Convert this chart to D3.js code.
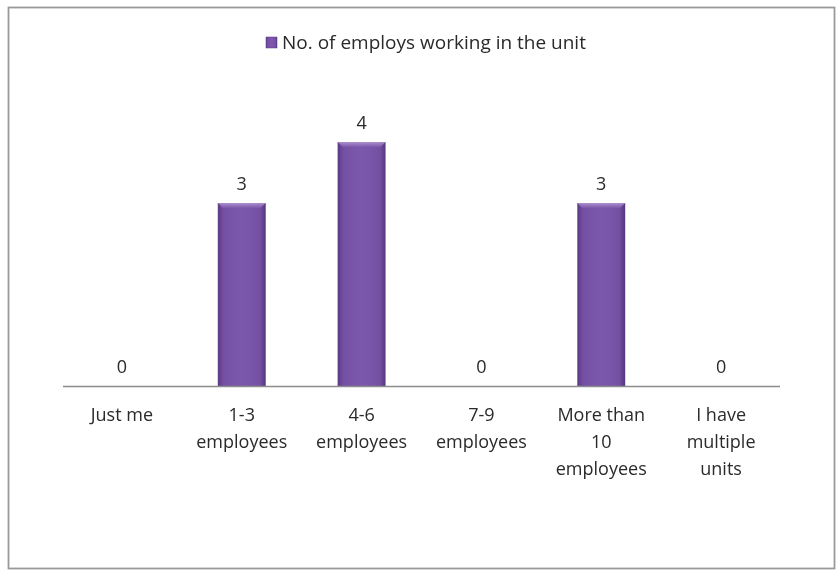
<!DOCTYPE html>
<html>
<head>
<meta charset="utf-8">
<script src="https://cdn.jsdelivr.net/npm/d3@7"></script>
<style>
  html, body { margin: 0; padding: 0; background: #fff; }
  svg { display: block; }
  text { font-family: "Open Sans", "Noto Sans", sans-serif; fill: #2a2a2a; }
</style>
</head>
<body>
<svg id="chart" width="837" height="571"></svg>
<script>
// Category labels (line breaks kept as separate lines)
const categories = [
  ["Just me"],
  ["1-3", "employees"],
  ["4-6", "employees"],
  ["7-9", "employees"],
  ["More than", "10", "employees"],
  ["I have", "multiple", "units"]
];
const values = [0, 3, 4, 0, 3, 0];
const seriesName = "No. of employs working in the unit";

const svg = d3.select("#chart");
const W = 837, H = 571;

// outer frame
svg.append("rect")
  .attr("x", 8.5).attr("y", 7.5)
  .attr("width", W - 11).attr("height", H - 10)
  .attr("fill", "#fff").attr("stroke", "#9a9a9a").attr("stroke-width", 1.8);

const plot = { left: 62, right: 781, top: 142, bottom: 386 };

const x = d3.scaleBand()
  .domain(d3.range(categories.length))
  .range([plot.left, plot.right])
  .paddingInner(0.6).paddingOuter(0.3);

const y = d3.scaleLinear().domain([0, 4]).range([plot.bottom, plot.top]);

// bar fill: darker edges, lighter middle
const defs = svg.append("defs");
const grad = defs.append("linearGradient").attr("id", "barGrad")
  .attr("x1", "0%").attr("x2", "100%").attr("y1", "0%").attr("y2", "0%");
[[0, "#5b3a85"], [0.12, "#7450a3"], [0.5, "#7d58ad"], [0.88, "#7450a3"], [1, "#55367c"]]
  .forEach(([o, c]) => grad.append("stop").attr("offset", o).attr("stop-color", c));
const capGrad = defs.append("linearGradient").attr("id", "capGrad")
  .attr("x1", "0%").attr("x2", "0%").attr("y1", "0%").attr("y2", "100%");
[[0, "#b49ad4"], [1, "#7d58ad"]]
  .forEach(([o, c]) => capGrad.append("stop").attr("offset", o).attr("stop-color", c));
const blur = defs.append("filter").attr("id", "soft").attr("x", "-20%").attr("y", "-20%").attr("width", "140%").attr("height", "140%");
blur.append("feGaussianBlur").attr("stdDeviation", 0.6);

const bw = x.bandwidth();
const bars = svg.append("g").attr("filter", "url(#soft)");
values.forEach((v, i) => {
  if (v <= 0) return;
  const bx = x(i), by = y(v), bh = y(0) - y(v);
  bars.append("rect")
    .attr("x", bx).attr("y", by).attr("width", bw).attr("height", bh)
    .attr("fill", "url(#barGrad)");
  // bevelled top
  bars.append("path")
    .attr("d", `M${bx},${by} L${bx + bw},${by} L${bx + bw - 5},${by + 5} L${bx + 5},${by + 5} Z`)
    .attr("fill", "url(#capGrad)").attr("opacity", 0.85);
});

// axis baseline
svg.append("line")
  .attr("x1", plot.left + 1).attr("x2", plot.right - 1)
  .attr("y1", plot.bottom + 0.5).attr("y2", plot.bottom + 0.5)
  .attr("stroke", "#8c8c8c").attr("stroke-width", 1.3);

// value labels
svg.append("g").selectAll("text").data(values).join("text")
  .attr("x", (d, i) => x(i) + bw / 2)
  .attr("y", d => y(d) - 13)
  .attr("text-anchor", "middle")
  .attr("font-size", 18)
  .text(d => d);

// category labels
const cat = svg.append("g");
categories.forEach((lines, i) => {
  const t = cat.append("text")
    .attr("x", x(i) + bw / 2)
    .attr("y", 421)
    .attr("text-anchor", "middle")
    .attr("font-size", 18);
  lines.forEach((ln, j) => {
    t.append("tspan").attr("x", x(i) + bw / 2).attr("dy", j === 0 ? 0 : 27).text(ln);
  });
});

// legend
const lg = svg.append("g");
lg.append("rect").attr("x", 266).attr("y", 37).attr("width", 11).attr("height", 11)
  .attr("fill", "url(#barGrad)").attr("stroke", "#5b3a85").attr("stroke-width", 0.5);
lg.append("text").attr("x", 282).attr("y", 49).attr("font-size", 19).text(seriesName);
</script>
</body>
</html>
